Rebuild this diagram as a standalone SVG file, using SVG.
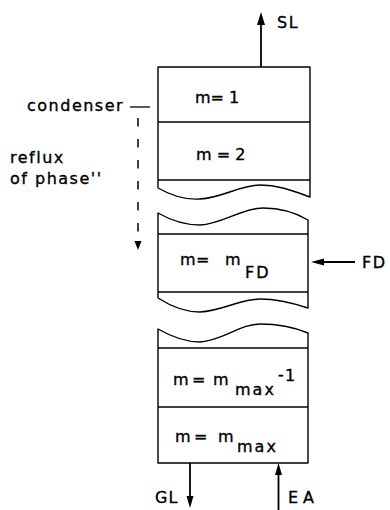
<svg xmlns="http://www.w3.org/2000/svg" width="390" height="510" viewBox="0 0 390 510">
<defs>
<style>
text{font-family:"DejaVu Sans","Liberation Sans",sans-serif;font-size:16px;fill:#000;stroke:#000;stroke-width:0.35}
.lbl{letter-spacing:1.5px}
.sub{letter-spacing:2px}
.seg{fill:#fff;stroke:#000;stroke-width:1.4;stroke-linejoin:round}
.div{stroke:#000;stroke-width:1.3;fill:none}
.flow{stroke:#000;stroke-width:1.8;fill:none}
.head{fill:#000;stroke:none}
</style>
</defs>
<rect width="390" height="510" fill="#fff"/>

<g id="section-top">
<path class="seg" d="M158,188 V67 H310 V197 C296,192 280,185 260,185 C240,185 222,198 200,199 C186,200 172,196 158,188 Z"/>
<line class="div" x1="158" y1="122" x2="310" y2="122"/>
<line class="div" x1="158" y1="180" x2="310" y2="180"/>
</g>
<g id="stage-1"><text x="195" y="103">m= 1</text></g>
<g id="stage-2"><text x="196" y="160">m = 2</text></g>

<g id="section-feed">
<path class="seg" d="M158,213 C172,221 186,225 200,225 C222,224 242,208 263,208 C283,208 298,214 308,220 V308 C296,304 280,299 260,299 C240,299 222,311 200,312 C186,312 172,307 158,298 Z"/>
<line class="div" x1="158" y1="234" x2="308" y2="234"/>
<line class="div" x1="158" y1="292" x2="308" y2="292"/>
</g>
<g id="stage-fd"><text x="180" y="265">m<tspan x="196">=</tspan><tspan x="225">m</tspan><tspan class="sub" x="245" y="278">FD</tspan></text></g>

<g id="section-bottom">
<path class="seg" d="M158,329 C172,337 186,342 200,342 C222,341 240,324 260,324 C280,324 296,328 308,333 V463 H158 Z"/>
<line class="div" x1="158" y1="348" x2="308" y2="348"/>
<line class="div" x1="158" y1="407" x2="308" y2="407"/>
</g>
<g id="stage-mmax-1"><text x="173" y="385">m<tspan x="192">=</tspan><tspan x="213">m</tspan><tspan class="sub" x="235" y="395">max</tspan><tspan x="278" y="380">-</tspan><tspan x="285" y="381">1</tspan></text></g>
<g id="stage-mmax"><text x="175" y="442">m<tspan x="194">=</tspan><tspan x="218">m</tspan><tspan class="sub" x="237" y="452">max</tspan></text></g>

<g id="labels">
<text class="lbl" x="27" y="111">condenser</text>
<text class="lbl" x="10" y="163">reflux</text>
<text class="lbl" x="10" y="184">of phase''</text>
<text class="lbl" x="277" y="28">SL</text>
<text class="lbl" x="362" y="268">FD</text>
<text x="155" y="503" style="letter-spacing:1px">GL</text>
<text x="288" y="503" style="letter-spacing:5px">EA</text>
</g>

<g id="connectors">
<line class="div" x1="130" y1="107" x2="150" y2="107"/>
<line x1="138" y1="118" x2="138" y2="232" stroke="#000" stroke-width="1.5" stroke-dasharray="8.5 12.5"/>
<path class="head" d="M138,250 L134.5,241 L141.5,241 Z"/>

<line class="flow" x1="261" y1="67" x2="261" y2="22"/>
<path class="head" d="M261,12 L257,25 L265,25 Z"/>

<line class="flow" x1="355" y1="262" x2="320" y2="262"/>
<path class="head" d="M311,262 L324,258.5 L324,265.5 Z"/>

<line class="flow" x1="190" y1="463" x2="190" y2="500"/>
<path class="head" d="M190,508 L186.5,496 L193.5,496 Z"/>

<line class="flow" x1="278.5" y1="510" x2="278.5" y2="472"/>
<path class="head" d="M278.5,463 L275,475 L282,475 Z"/>
</g>
</svg>
